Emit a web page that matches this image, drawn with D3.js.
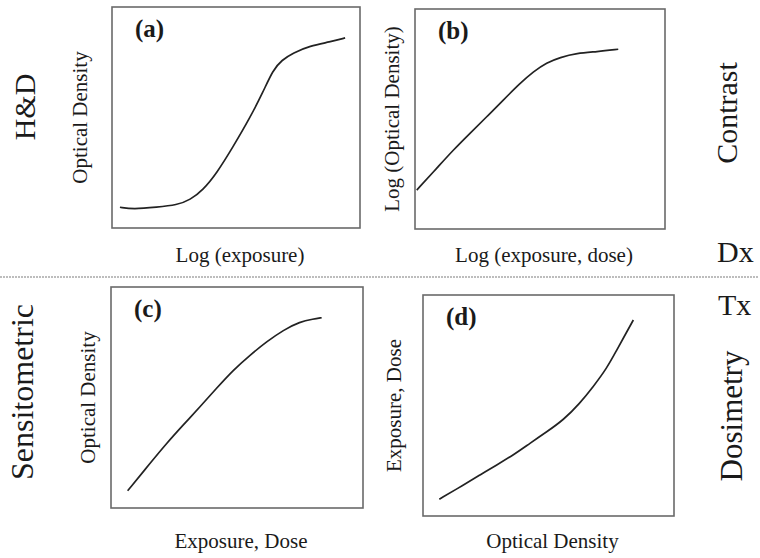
<!DOCTYPE html>
<html>
<head>
<meta charset="utf-8">
<script src="https://cdn.jsdelivr.net/npm/d3@7"></script>
<style>
    html, body { margin: 0; padding: 0; background: #fff; }
    text { font-family: "Liberation Serif", "DejaVu Serif", serif; fill: #1a1a1a; }
</style>
</head>
<body>
<div id="figure"></div>
<script>
/******************************************************
 *!              Data           *
******************************************************/
// curves are schematic, values in percent of each box
const curveA_x = [3.2, 8.5, 18.1, 26.2, 31.5, 36.7, 42.3, 48.8, 55.6, 60.9, 64.9, 68.5, 73.0, 79.8, 87.9, 94.0];
const curveA_y = [9.4, 8.5, 9.4, 10.4, 12.7, 17.2, 24.9, 36.7, 49.8, 61.5, 71.5, 76.0, 79.2, 82.4, 84.2, 86.0];

const curveB_x = [0.7, 8.7, 15.3, 22.0, 28.7, 35.3, 42.0, 47.3, 52.7, 58.0, 64.7, 72.7, 81.3];
const curveB_y = [17.7, 27.6, 35.9, 43.5, 51.0, 58.6, 66.2, 71.5, 75.6, 78.0, 79.9, 80.6, 81.7];

const curveC_x = [6.6, 15.5, 22.1, 28.7, 35.3, 41.9, 48.5, 55.2, 61.8, 68.4, 75.0, 80.3, 83.6];
const curveC_y = [7.8, 20.2, 29.3, 37.6, 45.8, 54.2, 62.4, 69.2, 75.3, 80.5, 84.3, 85.5, 86.1];

const curveD_x = [6.5, 16.1, 22.7, 29.4, 36.0, 42.6, 49.3, 55.9, 62.5, 67.8, 73.2, 77.2, 80.5, 83.8];
const curveD_y = [7.6, 14.0, 18.6, 23.1, 27.6, 32.9, 38.1, 43.4, 51.0, 58.5, 66.8, 75.1, 81.9, 88.7];

const panelTags = ["(a)", "(b)", "(c)", "(d)"];
const xTitles = ["Log (exposure)", "Log (exposure, dose)", "Exposure, Dose", "Optical Density"];
const yTitles = ["Optical Density", "Log (Optical Density)", "Optical Density", "Exposure, Dose"];
const sideTitles = ["H&D", "Contrast", "Sensitometric", "Dosimetry"];
const splitTitles = ["Dx", "Tx"];

/******************************************************
 *!              Layout constants                     *
******************************************************/
const WIDTH = 760;
const HEIGHT = 558;
const LABEL_SIZE = 21;
const BIG_SIZE = 30;
const TAG_SIZE = 25;

// box position of every panel: left, top, right, bottom
const BOXES = [
    [112, 7, 360, 228],
    [415, 9, 665, 229],
    [111, 287, 363, 508],
    [423, 295, 674, 516]
];
const SPLIT_Y = 277;

/******************************************************
 * Draws one panel: frame, curve and its texts
*******************************************************/
function drawPanel(svg, i, xs, ys) {
    const [l, t, r, b] = BOXES[i];
    const x = d3.scaleLinear().domain([0, 100]).range([l, r]);
    const y = d3.scaleLinear().domain([0, 100]).range([b, t]);

    svg.append("rect")
        .attr("x", l).attr("y", t)
        .attr("width", r - l).attr("height", b - t)
        .style("fill", "none")
        .style("stroke", "#6a6a6a")
        .style("stroke-width", 1.6);

    const pts = xs.map((v, k) => [v, ys[k]]);
    const line = d3.line()
        .x(d => x(d[0]))
        .y(d => y(d[1]))
        .curve(d3.curveBasis);

    svg.append("path")
        .datum(pts)
        .attr("d", line)
        .style("fill", "none")
        .style("stroke", "#222")
        .style("stroke-width", 1.7);

    // panel tag
    svg.append("text")
        .attr("x", l + 23).attr("y", t + 30)
        .style("font-size", TAG_SIZE + "px")
        .style("font-weight", "bold")
        .text(panelTags[i]);

    // x title under the box
    svg.append("text")
        .attr("x", (l + r) / 2 + 4)
        .attr("y", i < 2 ? 262 : 548)
        .attr("text-anchor", "middle")
        .style("font-size", LABEL_SIZE + "px")
        .text(xTitles[i]);

    // y title, rotated, left of the box
    const yx = [87, 399, 95, 401][i];
    svg.append("text")
        .attr("transform", `translate(${yx},${(t + b) / 2}) rotate(-90)`)
        .attr("text-anchor", "middle")
        .style("font-size", LABEL_SIZE + "px")
        .text(yTitles[i]);
}

/******************************************************
 * Main drawing
*******************************************************/
function draw() {
    const svg = d3.select("#figure")
        .append("svg")
        .attr("width", WIDTH)
        .attr("height", HEIGHT);

    drawPanel(svg, 0, curveA_x, curveA_y);
    drawPanel(svg, 1, curveB_x, curveB_y);
    drawPanel(svg, 2, curveC_x, curveC_y);
    drawPanel(svg, 3, curveD_x, curveD_y);

    // big side titles
    const side = [[35, 107], [737, 113], [33, 392], [742, 416]];
    const sizes = [30, 30, 32, 31];
    side.forEach((p, k) => {
        svg.append("text")
            .attr("transform", `translate(${p[0]},${p[1]}) rotate(-90)`)
            .attr("text-anchor", "middle")
            .style("font-size", sizes[k] + "px")
            .text(sideTitles[k]);
    });

    // dotted divider between diagnostic and therapy halves
    svg.append("line")
        .attr("x1", 0).attr("x2", 758)
        .attr("y1", SPLIT_Y).attr("y2", SPLIT_Y)
        .style("stroke", "#a8a8a8")
        .style("stroke-width", 1.4)
        .style("stroke-dasharray", "2,1");

    svg.append("text")
        .attr("x", 717).attr("y", 262)
        .style("font-size", BIG_SIZE + "px")
        .text(splitTitles[0]);
    svg.append("text")
        .attr("x", 718).attr("y", 315)
        .style("font-size", BIG_SIZE + "px")
        .text(splitTitles[1]);
}

draw();
</script>
</body>
</html>
